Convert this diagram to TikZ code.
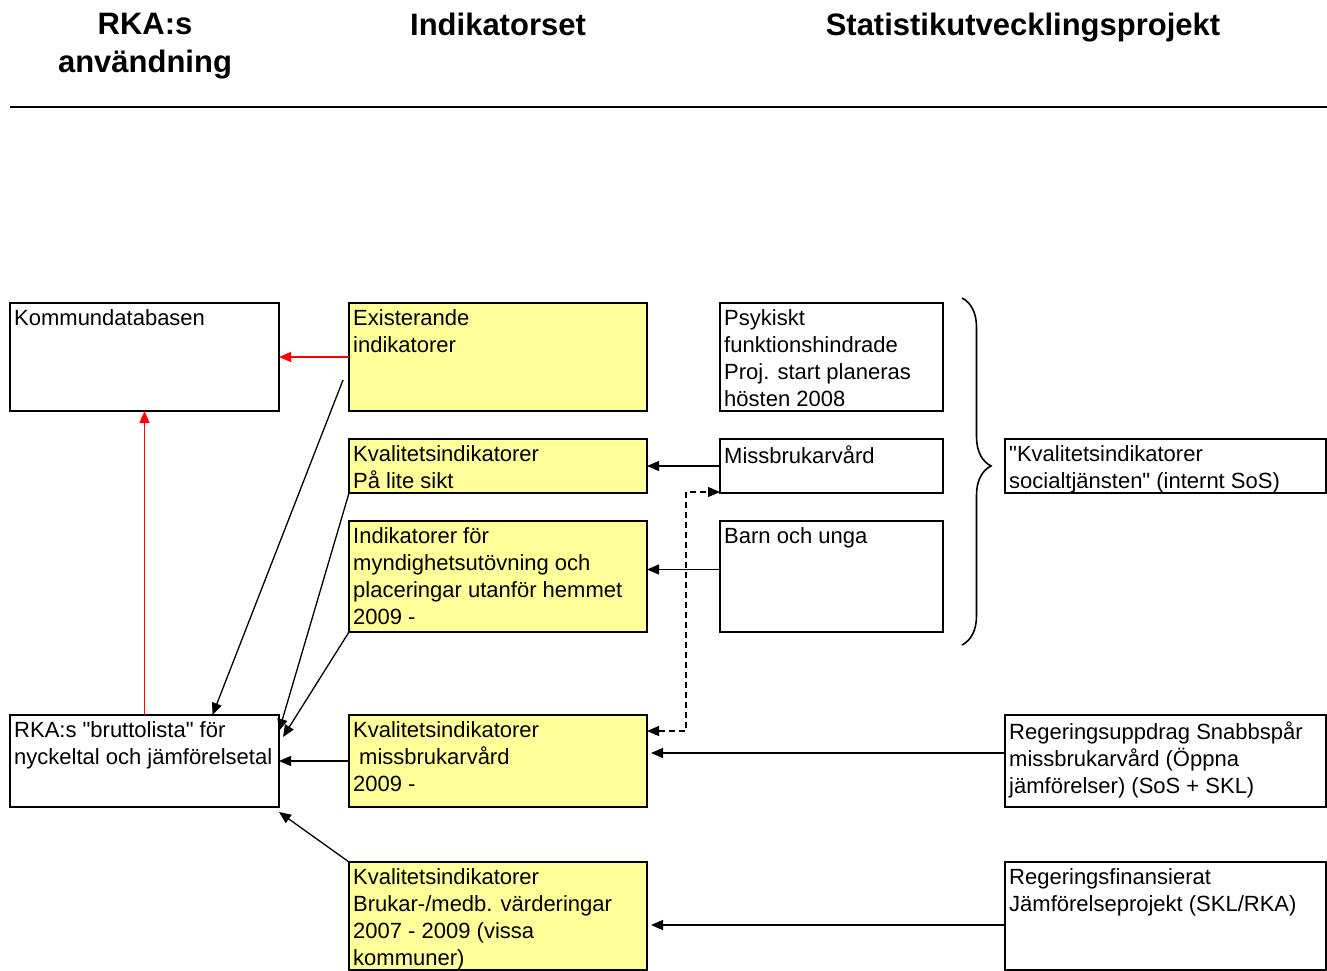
\documentclass[tikz,border=0pt]{standalone}
\usepackage{fontspec}
\setmainfont{Liberation Sans}[Ligatures=TeXOff]
\usetikzlibrary{arrows.meta,decorations.pathreplacing}
\definecolor{yellowbox}{HTML}{FFFF99}

\begin{document}
\begin{tikzpicture}[x=1pt, y=-1pt,
  >={Triangle[length=12pt,width=10pt]},
  box/.style={draw, line width=1.6pt, anchor=north west, inner sep=0pt, outer sep=0pt},
  yel/.style={fill=yellowbox},
  txt/.style={anchor=north west, align=left, inner xsep=4pt, inner ysep=6.5pt,
    font=\fontsize{22}{27}\selectfont},
  head/.style={anchor=north, align=center, inner sep=0pt,
    font=\fontsize{31}{38}\selectfont\bfseries},
  arr/.style={->, line width=1.3pt}]
  \useasboundingbox (0,0) rectangle (1327,971);

  % column headers
  \node[head] (hrka) at (145,13) {RKA:s\\användning};
  \node[head] (hind) at (498,13) {Indikatorset};
  \node[head] (hstat) at (1023,13) {Statistikutvecklingsprojekt};
  \draw[line width=1.5pt] (10,107) -- (1327,107);

  % RKA:s column
  \node[box, minimum width=269pt, minimum height=108pt,
    label={[txt]north west:{Kommundatabasen}}] (kommun) at (10,303) {};
  \node[box, minimum width=269pt, minimum height=92pt,
    label={[txt]north west:{RKA:s "bruttolista" för\\nyckeltal och jämförelsetal}}] (brutto) at (10,715) {};

  % indikatorset
  \node[box, yel, minimum width=298pt, minimum height=108pt,
    label={[txt]north west:{Existerande\\indikatorer}}] (exist) at (349,303) {};
  \node[box, yel, minimum width=298pt, minimum height=54pt,
    label={[txt]north west:{Kvalitetsindikatorer\\På lite sikt}}] (lite) at (349,439) {};
  \node[box, yel, minimum width=298pt, minimum height=111pt,
    label={[txt]north west:{Indikatorer för\\myndighetsutövning och\\placeringar utanför hemmet\\2009 -}}] (myndig) at (349,521) {};
  \node[box, yel, minimum width=298pt, minimum height=92pt,
    label={[txt]north west:{Kvalitetsindikatorer\\\hspace*{6pt}missbrukarvård\\2009 -}}] (kvmiss) at (349,715) {};
  \node[box, yel, minimum width=298pt, minimum height=108pt,
    label={[txt]north west:{Kvalitetsindikatorer\\Brukar-/medb. värderingar\\2007 - 2009 (vissa\\kommuner)}}] (brukar) at (349,862) {};

  % statistikutveckling
  \node[box, minimum width=223pt, minimum height=108pt,
    label={[txt]north west:{Psykiskt\\funktionshindrade\\Proj. start planeras\\hösten 2008}}] (psyk) at (720,303) {};
  \node[box, minimum width=223pt, minimum height=54pt,
    label={[txt]north west:{Missbrukarvård}}] (missb) at (720,439) {};
  \node[box, minimum width=223pt, minimum height=111pt,
    label={[txt]north west:{Barn och unga}}] (barn) at (720,521) {};
  \node[box, minimum width=321pt, minimum height=54pt,
    label={[txt]north west:{"Kvalitetsindikatorer\\socialtjänsten" (internt SoS)}}] (socsos) at (1005,439) {};
  \node[box, minimum width=321pt, minimum height=92pt,
    label={[txt]north west:{Regeringsuppdrag Snabbspår\\missbrukarvård (Öppna\\jämförelser) (SoS + SKL)}}] (reguppd) at (1005,715) {};
  \node[box, minimum width=321pt, minimum height=108pt,
    label={[txt]north west:{Regeringsfinansierat\\Jämförelseprojekt (SKL/RKA)}}] (regfin) at (1005,862) {};

  \draw[line width=1.6pt, decorate, decoration={brace, amplitude=29pt, aspect=0.484}]
    (962,298) -- (962,645);

  % to Kommundatabasen
  \draw[arr, red] (exist.west) -- (kommun.east);
  \draw[arr, red] (brutto.north) -- (kommun.south);

  % to bruttolista
  \draw[arr] ([xshift=-6pt,yshift=31pt]exist.south west) -- ([xshift=68pt]brutto.north);
  \draw[arr] (lite.south west) -- ([yshift=30pt]brutto.east);
  \draw[arr] (myndig.south west) -- ([xshift=4pt,yshift=24pt]brutto.east);
  \draw[arr] (kvmiss.west) -- (brutto.east);
  \draw[arr] (brukar.north west) -- ([yshift=-5pt]brutto.south east);

  % from the projects
  \draw[arr] (missb.west) -- (lite.east);
  \draw[arr] ([yshift=7pt]barn.west) -- ([yshift=7pt]myndig.east);
  \draw[arr, shorten >=4pt] ([yshift=8pt]reguppd.west) -- ([yshift=8pt]kvmiss.east);
  \draw[arr, shorten >=4pt] ([yshift=-9pt]regfin.west) -- ([yshift=-9pt]brukar.east);
  \draw[<->, line width=1.2pt, dash pattern=on 6pt off 4pt]
    ([yshift=30pt]kvmiss.east) -- ++(39,0) |- ([yshift=1pt]missb.south west);
\end{tikzpicture}
\end{document}
